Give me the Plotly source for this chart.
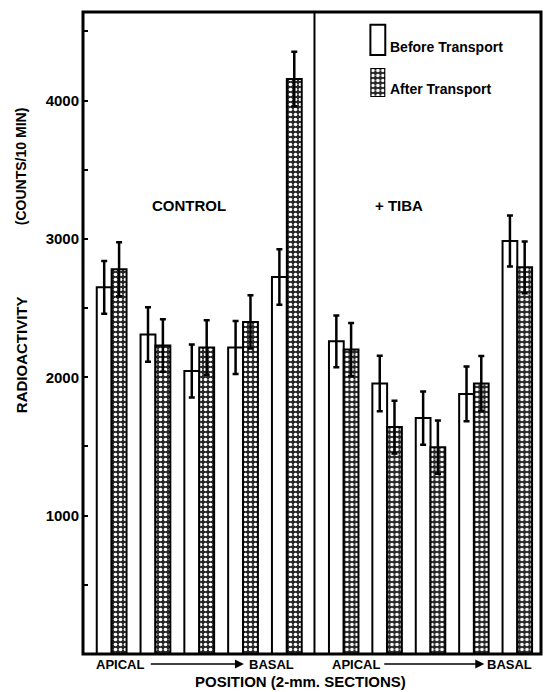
import plotly.graph_objects as go
from plotly.subplots import make_subplots

# ---- data ----
sections = [1, 2, 3, 4, 5]
control_before = [2650, 2310, 2045, 2215, 2725]
control_before_err = [190, 197, 192, 192, 200]
control_after = [2780, 2230, 2215, 2400, 4155]
control_after_err = [195, 190, 197, 192, 197]
tiba_before = [2260, 1955, 1705, 1880, 2985]
tiba_before_err = [187, 200, 193, 197, 185]
tiba_after = [2200, 1640, 1495, 1955, 2795]
tiba_after_err = [193, 190, 193, 198, 187]
y_ticks = [1000, 2000, 3000, 4000]
y_minor = [500, 1500, 2500, 3500, 4500]
series_names = ["Before Transport", "After Transport"]
panel_labels = ["CONTROL", "+ TIBA"]

FONT = "Liberation Sans"
SPLIT = 0.5054

stipple = dict(shape=".", fgcolor="white", bgcolor="#262626", size=5,
               solidity=0.42, fillmode="replace")

fig = make_subplots(rows=1, cols=2, shared_yaxes=True, horizontal_spacing=0)

def add_panel(col, before, berr, after, aerr):
    fig.add_trace(go.Bar(
        x=sections, y=before, name=series_names[0], showlegend=False,
        marker=dict(color="white", line=dict(color="black", width=2)),
        error_y=dict(type="data", array=berr, color="black", thickness=2.5, width=3),
    ), row=1, col=col)
    fig.add_trace(go.Bar(
        x=sections, y=after, name=series_names[1], showlegend=False,
        marker=dict(color="#262626", pattern=stipple, line=dict(color="black", width=2)),
        error_y=dict(type="data", array=aerr, color="black", thickness=2.5, width=3),
    ), row=1, col=col)

add_panel(1, control_before, control_before_err, control_after, control_after_err)
add_panel(2, tiba_before, tiba_before_err, tiba_after, tiba_after_err)

# legend swatch (stippled) on a hidden small axis
fig.add_trace(go.Bar(x=[0], y=[1], width=1, xaxis="x3", yaxis="y3", showlegend=False,
                     marker=dict(color="#262626", pattern=stipple,
                                 line=dict(color="black", width=2)),
                     hoverinfo="skip"))

fig.update_layout(
    width=545, height=692,
    margin=dict(l=83, r=4, t=12, b=38),
    paper_bgcolor="white", plot_bgcolor="white",
    barmode="group", bargap=0.32, bargroupgap=0,
    showlegend=False,
    xaxis=dict(domain=[0, SPLIT], range=[0.346, 5.631], showticklabels=False,
               ticks="", showgrid=False, zeroline=False, showline=False),
    xaxis2=dict(domain=[SPLIT, 1], range=[0.326, 5.546], showticklabels=False,
                ticks="", showgrid=False, zeroline=False, showline=False),
    yaxis=dict(range=[0, 4640], tickvals=y_ticks, ticks="inside", ticklen=5,
               tickwidth=2, tickcolor="black", showgrid=False, zeroline=False,
               showline=False, ticklabelstandoff=3,
               tickfont=dict(family=FONT, size=15, color="black", weight="bold"),
               minor=dict(tickvals=y_minor, ticks="inside", ticklen=5, tickwidth=2,
                          tickcolor="black")),
    yaxis2=dict(showgrid=False, zeroline=False, ticks=""),
    xaxis3=dict(domain=[0.6275, 0.660], range=[-0.5, 0.5], visible=False,
                anchor="y3"),
    yaxis3=dict(domain=[0.8676, 0.9128], range=[0, 1], visible=False,
                anchor="x3"),
)

shapes = [
    dict(type="rect", xref="paper", yref="paper", x0=0, x1=1, y0=0, y1=1,
         line=dict(color="black", width=3), layer="above"),
    dict(type="line", xref="paper", yref="paper", x0=SPLIT, x1=SPLIT, y0=0, y1=1,
         line=dict(color="black", width=2), layer="above"),
    dict(type="rect", xref="paper", yref="paper", x0=0.6275, x1=0.660, y0=0.933,
         y1=0.980, line=dict(color="black", width=2), fillcolor="white"),
]
fig.update_layout(shapes=shapes)

def txt(text, x, y, size, xref="paper", yref="paper", xanchor="center", angle=0):
    fig.add_annotation(text=text, x=x, y=y, xref=xref, yref=yref, showarrow=False,
                       xanchor=xanchor, yanchor="middle", textangle=angle,
                       font=dict(family=FONT, size=size, color="black", weight="bold"))

# legend text
txt(series_names[0], 0.6667, 0.9455, 14, xanchor="left")
txt(series_names[1], 0.6667, 0.880, 14, xanchor="left")

# panel labels
txt(panel_labels[0], 2.76, 0.698, 15, xref="x")
txt(panel_labels[1], 2.28, 0.698, 15, xref="x2")

# axis titles
txt("RADIOACTIVITY", -0.135, 0.4657, 15, angle=-90)
txt("(COUNTS/10 MIN)", -0.135, 0.7586, 14, angle=-90)
txt("POSITION (2-mm. SECTIONS)", 0.475, -0.0425, 15)

# apical / basal labels with arrows
for xr, ap, a0, a1, bs in [("x", 1.19, 1.86, 4.02, 4.64), ("x2", 1.28, 1.90, 4.24, 4.82)]:
    txt("APICAL", ap, -0.0156, 13, xref=xr)
    txt("BASAL", bs, -0.0156, 13, xref=xr)
    fig.add_annotation(x=a1, y=-0.0156, xref=xr, yref="paper", ax=a0, ay=0,
                       axref=xr, ayref="pixel", text="", showarrow=True,
                       arrowhead=2, arrowsize=1.2, arrowwidth=1.5, arrowcolor="black")

fig.write_html("out.html")
